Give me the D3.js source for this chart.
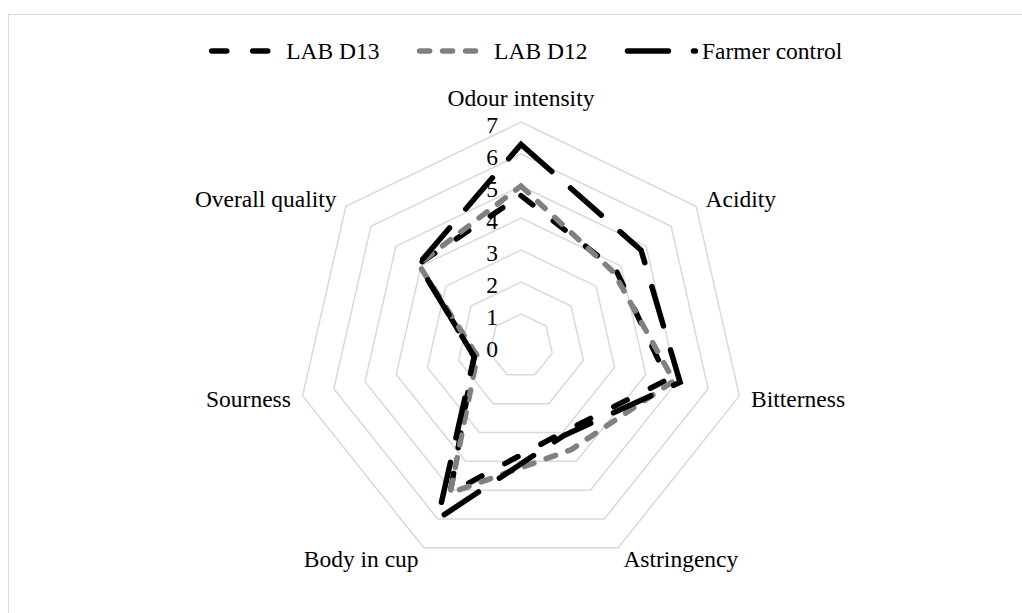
<!DOCTYPE html>
<html>
<head>
<meta charset="utf-8">
<script src="https://cdn.jsdelivr.net/npm/d3@7"></script>
<style>
    body { margin: 0; background: #fff; }
    text { font-family: "Liberation Serif", "Times New Roman", serif; fill: #000; }
</style>
</head>
<body>
<svg id="radar" width="1022" height="613"></svg>
<script>
const categories = ['Odour intensity', 'Acidity', 'Bitterness', 'Astringency', 'Body in cup', 'Sourness', 'Overall quality']
const seriesNames = ['LAB D13', 'LAB D12', 'Farmer control']
const labD13 = [4.7, 3.8, 4.7, 3.0, 5.1, 1.5, 4.1]
const labD12 = [5.0, 3.7, 4.9, 3.6, 5.1, 1.4, 4.1]
const farmer = [6.3, 4.8, 5.1, 3.1, 6.0, 1.5, 4.1]
const tickValues = [0, 1, 2, 3, 4, 5, 6, 7]

const SVG = d3.select('#radar')
const Width = 1022
const Height = 613
const cx = 521
const cy = 346
const R = 224
const fontSize = 23.5

const style = {
    'LAB D13': { color: '#000000', dash: '15 26' },
    'LAB D12': { color: '#808080', dash: '10 13' },
    'Farmer control': { color: '#000000', dash: '41 25' }
}
const values = { 'LAB D13': labD13, 'LAB D12': labD12, 'Farmer control': farmer }

const rscale = d3.scaleLinear()
    .domain([0, d3.max(tickValues)])
    .range([0, R])

const ascale = d3.scaleLinear()
    .domain([0, categories.length])
    .range([0, 2 * Math.PI])

// chart frame (cut off on the right / bottom like the original)
SVG.append('rect')
    .attr('x', 8.5)
    .attr('y', 14.5)
    .attr('width', Width + 40)
    .attr('height', Height + 40)
    .style('fill', 'none')
    .style('stroke', '#d9d9d9')
    .style('stroke-width', 1)

const plot = SVG.append('g')
    .attr('transform', `translate(${cx}, ${cy})`)

// grid rings
const ring = t => d3.lineRadial()
    .angle((d, i) => ascale(i))
    .radius(() => rscale(t))
    .curve(d3.curveLinearClosed)(categories)

plot.selectAll('.ring')
    .data(tickValues.filter(t => t > 0))
    .join('path')
    .attr('class', 'ring')
    .attr('d', d => ring(d))
    .style('fill', 'none')
    .style('stroke', '#d9d9d9')
    .style('stroke-width', 1.5)

// value labels along the first axis
plot.selectAll('.tick')
    .data(tickValues)
    .join('text')
    .attr('class', 'tick')
    .attr('x', -23)
    .attr('y', d => -rscale(d) + 11)
    .style('text-anchor', 'end')
    .style('font-size', fontSize)
    .text(d => d)

// category labels
categories.forEach((c, i) => {
    let a = ascale(i)
    let sx = Math.sin(a)
    let cyy = -Math.cos(a)
    let r = R + 12
    let x = r * sx
    let y = r * cyy
    let anchor = 'middle'
    if (sx > 0.1) anchor = 'start'
    if (sx < -0.1) anchor = 'end'
    let t = plot.append('text')
        .text(c)
        .attr('x', x)
        .style('text-anchor', anchor)
        .style('font-size', fontSize)
    if (cyy < -0.9) {
        t.attr('y', -R - 16)
    } else {
        t.attr('y', y).attr('dy', '0.35em')
    }
})

// series
const line = d3.lineRadial()
    .angle((d, i) => ascale(i))
    .radius(d => rscale(d))
    .curve(d3.curveLinearClosed)

seriesNames.forEach(name => {
    plot.append('path')
        .attr('d', line(values[name]))
        .style('fill', 'none')
        .style('stroke', style[name].color)
        .style('stroke-width', 5.5)
        .style('stroke-dasharray', style[name].dash)
        .style('stroke-linecap', 'round')
        .style('stroke-linejoin', 'miter')
})

// legend
const legend = SVG.append('g')
const sampleLen = 68
const textGap = 6.5
const itemGap = 40
const legendY = 51
let lx = 0
seriesNames.forEach(name => {
    let item = legend.append('g').attr('transform', `translate(${lx}, 0)`)
    item.append('line')
        .attr('x1', 0)
        .attr('x2', sampleLen)
        .attr('y1', legendY)
        .attr('y2', legendY)
        .style('stroke', style[name].color)
        .style('stroke-width', 5.5)
        .style('stroke-dasharray', style[name].dash)
        .style('stroke-linecap', 'round')
    let t = item.append('text')
        .text(name)
        .attr('x', sampleLen + textGap)
        .attr('y', legendY + 8)
        .style('font-size', fontSize)
    lx += sampleLen + textGap + t.node().getComputedTextLength() + itemGap
})
let legendWidth = lx - itemGap
legend.attr('transform', `translate(${527 - legendWidth / 2}, 0)`)
</script>
</body>
</html>
